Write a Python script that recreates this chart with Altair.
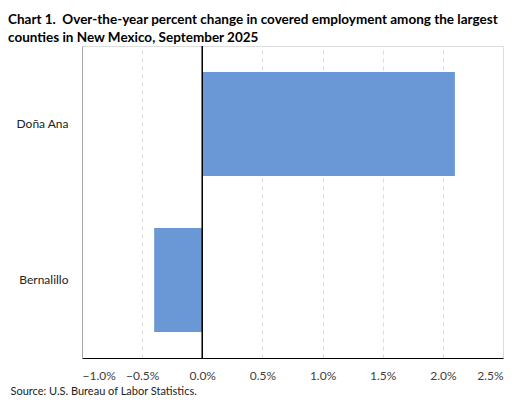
import altair as alt
import pandas as pd

# values (percent change, Sept 2025)
counties = ["Doña Ana", "Bernalillo"]
pct_change = [2.1, -0.4]
x_ticks = [-1.0, -0.5, 0.0, 0.5, 1.0, 1.5, 2.0, 2.5]

title_lines = [
    "Chart 1.\u00a0 Over-the-year percent change in covered employment among the largest",
    "counties in New Mexico, September 2025",
]
source_note = "Source: U.S. Bureau of Labor Statistics."

FONT = "Lato"
BAR_COLOR = "#6a98d6"
FRAME_GREY = "#a6a6a6"


def build_chart():
    """
    Returns horizontal bar chart of over-the-year change by county
    """
    df = pd.DataFrame({"county": counties, "change": pct_change})

    bars = (
        alt.Chart(df)
        .mark_bar(color=BAR_COLOR)
        .encode(
            x=alt.X(
                "change:Q",
                scale=alt.Scale(domain=[-1.0, 2.5], nice=False, zero=False),
                axis=alt.Axis(
                    values=x_ticks,
                    labelExpr="format(datum.value, '.1f') + '%'",
                    ticks=False,
                    labelPadding=12,
                    labelFontSize=12,
                    labelColor="#404040",
                    labelFont=FONT,
                    domainColor="#000000",
                    grid=True,
                    gridColor="#d9d9d9",
                    gridDash=[4, 4],
                    title=source_note,
                    titleFont=FONT,
                    titleFontSize=11,
                    titleFontWeight="normal",
                    titleColor="#222222",
                    titleAnchor="start",
                    titleAlign="left",
                    titleBaseline="alphabetic",
                    titleX=-72,
                    titleY=36,
                ),
            ),
            y=alt.Y(
                "county:N",
                sort=counties,
                scale=alt.Scale(paddingInner=0.333, paddingOuter=0.167),
                axis=alt.Axis(
                    title=None,
                    ticks=False,
                    labelPadding=14,
                    labelFontSize=12,
                    labelColor="#222222",
                    labelFont=FONT,
                    domainColor=FRAME_GREY,
                    grid=False,
                ),
            ),
        )
    )

    zero_line = (
        alt.Chart(df)
        .mark_rule(color="#000000", strokeWidth=1.2)
        .encode(x=alt.datum(0))
    )

    chart = (
        alt.layer(bars, zero_line)
        .properties(
            title=alt.Title(
                title_lines,
                anchor="start",
                frame="group",
                dx=-74,
                offset=1,
                font=FONT,
                fontSize=13.5,
                fontWeight="bold",
                lineHeight=18,
                color="#000000",
            ),
            width=421,
            height=312,
            autosize=alt.AutoSizeParams(type="none"),
            padding={"left": 74, "top": 38, "right": 14, "bottom": 38},
        )
        .configure_view(stroke=FRAME_GREY, strokeWidth=1)
        .configure(background="#ffffff")
    )

    return chart


chart = build_chart()
chart.save("out.html", embed_options={"renderer": "svg", "actions": False})
